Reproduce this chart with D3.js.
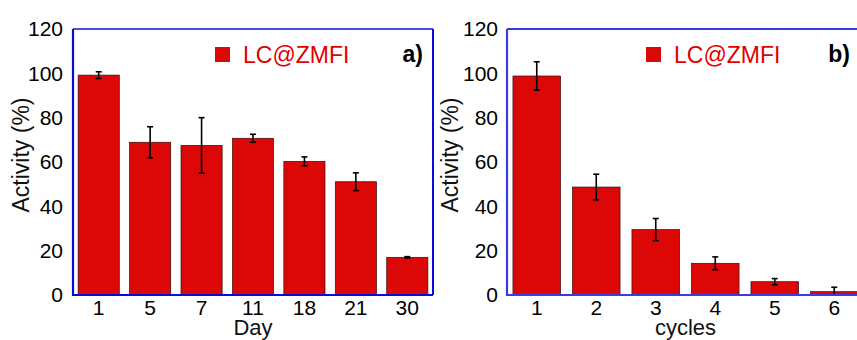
<!DOCTYPE html>
<html>
<head>
<meta charset="utf-8">
<script src="https://cdn.jsdelivr.net/npm/d3@7"></script>
<style>
  body { margin: 0; background: #fff; }
  svg { display: block; font-family: Arial, "Liberation Sans", sans-serif; }
</style>
</head>
<body>
<div id="chart"></div>
<script>
// panel a: activity over storage days
const dayLabels = ['1', '5', '7', '11', '18', '21', '30'];
const dayActivity = [99.2, 68.9, 67.5, 70.7, 60.3, 51.1, 17.0];
const dayError = [1.5, 7, 12.5, 1.8, 2, 4, 0.3];

// panel b: activity over reuse cycles
const cycleLabels = ['1', '2', '3', '4', '5', '6'];
const cycleActivity = [98.8, 48.7, 29.5, 14.3, 6.0, 1.5];
const cycleError = [6.4, 5.8, 5, 2.9, 1.4, 2];

const yTicks = [0, 20, 40, 60, 80, 100, 120];
const seriesName = 'LC@ZMFI';

const W = 857, H = 340;
const plotTop = 29, plotBottom = 295;
const barColor = '#dc0808';

const svg = d3.select('#chart').append('svg')
	.attr('width', W)
	.attr('height', H);

const yScale = d3.scaleLinear().domain([0, 120]).range([plotBottom, plotTop]);

function drawPanel(p) {
	const x = d3.scaleBand()
		.domain(p.labels)
		.range([p.x0, p.x1])
		.paddingInner(0.2)
		.paddingOuter(0.1);

	const g = svg.append('g').attr('class', 'panel');

	// bars
	g.selectAll('.bar')
		.data(p.values)
		.enter()
		.append('rect')
		.attr('class', 'bar')
		.attr('x', (d, i) => x(p.labels[i]))
		.attr('y', d => yScale(d))
		.attr('width', x.bandwidth())
		.attr('height', d => plotBottom - yScale(d))
		.attr('fill', barColor)
		.attr('stroke', '#3a0a0a')
		.attr('stroke-width', 0.7);

	// error bars
	const err = g.selectAll('.err')
		.data(p.values)
		.enter()
		.append('g')
		.attr('class', 'err')
		.attr('transform', (d, i) => 'translate(' + (x(p.labels[i]) + x.bandwidth() / 2) + ',0)');
	err.append('line')
		.attr('y1', (d, i) => yScale(d + p.errors[i]))
		.attr('y2', (d, i) => yScale(Math.max(0, d - p.errors[i])))
		.attr('stroke', '#000').attr('stroke-width', 1.6);
	err.append('line')
		.attr('x1', -3).attr('x2', 3)
		.attr('y1', (d, i) => yScale(d + p.errors[i]))
		.attr('y2', (d, i) => yScale(d + p.errors[i]))
		.attr('stroke', '#000').attr('stroke-width', 1.6);
	err.append('line')
		.attr('x1', -3).attr('x2', 3)
		.attr('y1', (d, i) => yScale(Math.max(0, d - p.errors[i])))
		.attr('y2', (d, i) => yScale(Math.max(0, d - p.errors[i])))
		.attr('stroke', '#000').attr('stroke-width', 1.6);

	// frame
	g.append('line').attr('x1', p.x0).attr('x2', p.x1).attr('y1', plotTop).attr('y2', plotTop)
		.attr('stroke', p.frameLight).attr('stroke-width', 1.8);
	g.append('line').attr('x1', p.x1).attr('x2', p.x1).attr('y1', plotTop).attr('y2', plotBottom)
		.attr('stroke', p.frame).attr('stroke-width', 2);
	g.append('line').attr('x1', p.x0).attr('x2', p.x0).attr('y1', plotTop).attr('y2', plotBottom + 1)
		.attr('stroke', p.frame).attr('stroke-width', 2.2);
	g.append('line').attr('x1', p.x0).attr('x2', p.x1).attr('y1', plotBottom).attr('y2', plotBottom)
		.attr('stroke', p.frame).attr('stroke-width', 2.2);

	// y axis (labels only)
	const yAxis = d3.axisLeft(yScale).tickValues(yTicks).tickSize(0).tickPadding(p.yPad);
	const ya = g.append('g')
		.attr('transform', 'translate(' + p.x0 + ',0)')
		.call(yAxis);
	ya.select('.domain').remove();
	ya.selectAll('text')
		.attr('font-size', 21)
		.attr('font-family', 'Arial, "Liberation Sans", sans-serif')
		.attr('fill', '#000');

	// x axis (labels only)
	const xAxis = d3.axisBottom(x).tickSize(0).tickPadding(5);
	const xa = g.append('g')
		.attr('transform', 'translate(0,' + plotBottom + ')')
		.call(xAxis);
	xa.select('.domain').remove();
	xa.selectAll('text')
		.attr('font-size', 21)
		.attr('font-family', 'Arial, "Liberation Sans", sans-serif')
		.attr('fill', '#000');

	// axis titles
	g.append('text')
		.attr('transform', 'translate(' + (p.x0 - p.titleOff) + ',' + 155 + ') rotate(-90)')
		.attr('text-anchor', 'middle')
		.attr('font-size', 23)
		.attr('fill', '#111')
		.text('Activity (%)');
	g.append('text')
		.attr('x', (p.x0 + p.x1) / 2)
		.attr('y', 335)
		.attr('text-anchor', 'middle')
		.attr('font-size', 22)
		.attr('fill', '#111')
		.text(p.xTitle);

	// legend
	g.append('rect')
		.attr('x', p.legX).attr('y', 47)
		.attr('width', 15).attr('height', 15)
		.attr('fill', barColor);
	g.append('text')
		.attr('x', p.legX + 28).attr('y', 62.5)
		.attr('font-size', 23)
		.attr('fill', '#e00000')
		.text(seriesName);

	// panel tag
	g.append('text')
		.attr('x', p.tagX).attr('y', 62)
		.attr('text-anchor', 'end')
		.attr('font-size', 23)
		.attr('font-weight', 'bold')
		.attr('fill', '#000')
		.text(p.tag);
}

drawPanel({
	labels: dayLabels, values: dayActivity, errors: dayError,
	x0: 73, x1: 433, xTitle: 'Day', tag: 'a)', tagX: 423, legX: 215,
	yPad: 10, titleOff: 44, frame: '#0a0ad8', frameLight: '#4a4ae6'
});
drawPanel({
	labels: cycleLabels, values: cycleActivity, errors: cycleError,
	x0: 507, x1: 864, xTitle: 'cycles', tag: 'b)', tagX: 850, legX: 646,
	yPad: 9, titleOff: 49, frame: '#3a3ae6', frameLight: '#3a3ae6'
});
</script>
</body>
</html>
